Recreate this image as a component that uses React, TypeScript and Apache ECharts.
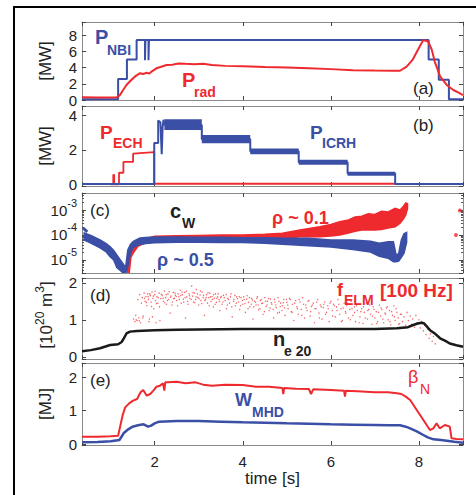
import React, { useEffect, useRef } from 'react';
import * as echarts from 'echarts';

// ---------- tick labels ----------
const timeTicks = [2, 4, 6, 8];
const ticksA = [0, 2, 4, 6, 8];
const ticksB = [0, 2, 4];
const ticksCExp = [-5, -4, -3];
const ticksD = [0, 1, 2];
const ticksE = [0, 1, 2];

// ---------- panel (a) [MW] ----------
const nbiT = [0.35, 1.17, 1.17, 1.37, 1.37, 1.59, 1.59, 1.78, 1.78, 1.79, 1.79, 1.86, 1.86, 1.87, 1.87, 8.22, 8.22, 8.45, 8.45, 8.68, 8.68, 9.0];
const nbiV = [0.1, 0.1, 2.6, 2.6, 5.0, 5.0, 7.4, 7.4, 4.9, 4.9, 7.4, 7.4, 4.9, 4.9, 7.4, 7.4, 5.0, 5.0, 2.5, 2.5, 0.1, 0.1];
const radT = [0.35, 0.7, 1.0, 1.14, 1.21, 1.28, 1.36, 1.44, 1.51, 1.58, 1.67, 1.74, 1.82, 1.88, 1.93, 2.04, 2.15, 2.27, 2.4, 2.54, 2.7, 2.9, 3.1, 3.3, 3.6, 4.0, 4.5, 5.0, 5.5, 6.0, 6.5, 7.0, 7.4, 7.57, 7.72, 7.85, 7.95, 8.03, 8.1, 8.15, 8.21, 8.29, 8.36, 8.48, 8.63, 8.78, 8.9, 9.0];
const radV = [0.33, 0.32, 0.3, 0.33, 0.6, 1.2, 1.85, 2.3, 2.67, 3.0, 3.3, 3.2, 3.35, 3.25, 3.5, 3.9, 4.1, 4.3, 4.35, 4.5, 4.45, 4.4, 4.45, 4.3, 4.2, 4.15, 4.05, 4.0, 3.9, 3.8, 3.65, 3.62, 3.6, 3.6, 4.1, 4.9, 5.9, 6.7, 7.4, 7.3, 7.2, 6.2, 4.7, 2.9, 1.85, 1.23, 0.9, 0.6];

// ---------- panel (b) [MW] ----------
const echT = [1.0, 1.06, 1.06, 1.08, 1.08, 1.19, 1.19, 1.29, 1.29, 1.51, 1.51, 1.75, 1.99, 1.99, 7.46];
const echV = [0, 0, 0.55, 0.55, 0, 0, 0.67, 0.67, 1.3, 1.3, 1.78, 1.83, 1.87, 0.03, 0.03];
const icrhT = [0.35, 1.99, 1.99, 2.08, 2.08, 2.13, 2.16, 2.18, 2.2, 2.22, 2.25, 3.07, 3.07, 4.17, 4.17, 5.27, 5.27, 6.38, 6.38, 7.46, 7.46, 9.0];
const icrhV = [0.02, 0.02, 2.4, 2.4, 3.7, 3.6, 1.75, 3.3, 3.75, 3.45, 3.5, 3.45, 2.62, 2.62, 1.92, 1.92, 1.28, 1.28, 0.62, 0.62, 0.02, 0.02];
const icrhBandStart = [2.22, 3.07, 4.17, 5.27, 6.38];
const icrhBandEnd = [3.07, 4.17, 5.27, 6.38, 7.46];
const icrhBandLo = [3.15, 2.38, 1.74, 1.13, 0.5];
const icrhBandHi = [3.78, 2.86, 2.08, 1.42, 0.73];

// ---------- panel (c) c_W, log10 values ----------
const rho01T = [1.38, 1.42, 1.46, 1.52, 1.62, 1.8, 2.0, 2.5, 3.0, 3.5, 4.0, 4.5, 4.9, 5.3, 5.75, 6.0, 6.2, 6.4, 6.55, 6.7, 6.85, 7.0, 7.15, 7.3, 7.46, 7.57, 7.65, 7.7, 7.74];
const rho01Hi = [-5.55, -4.75, -4.55, -4.45, -4.3, -4.15, -4.05, -4.03, -4.02, -4.0, -4.0, -3.97, -3.93, -3.8, -3.67, -3.58, -3.47, -3.4, -3.28, -3.25, -3.15, -3.18, -3.05, -3.08, -2.93, -3.0, -2.85, -2.72, -2.75];
const rho01Lo = [-5.55, -5.55, -4.9, -4.7, -4.45, -4.3, -4.25, -4.23, -4.22, -4.2, -4.2, -4.18, -4.15, -4.07, -4.07, -4.04, -4.0, -3.92, -3.85, -3.8, -3.8, -3.8, -3.78, -3.72, -3.67, -3.53, -3.35, -3.2, -2.95];
const rho05T = [0.4, 0.55, 0.76, 0.9, 0.99, 1.07, 1.14, 1.22, 1.3, 1.34, 1.39, 1.45, 1.51, 1.6, 1.67, 1.8, 2.0, 2.5, 3.0, 3.5, 4.0, 4.5, 5.0, 5.5, 6.0, 6.5, 6.9, 7.1, 7.3, 7.42, 7.48, 7.54, 7.6, 7.66, 7.72];
const rho05Hi = [-3.92, -4.02, -4.2, -4.35, -4.47, -4.62, -4.8, -5.0, -5.2, -5.3, -4.6, -4.38, -4.27, -4.18, -4.12, -4.1, -4.08, -4.08, -4.09, -4.09, -4.11, -4.11, -4.13, -4.13, -4.2, -4.2, -4.25, -4.33, -4.27, -4.27, -4.8, -4.75, -4.2, -3.95, -3.9];
const rho05Lo = [-4.2, -4.32, -4.52, -4.68, -4.87, -5.0, -5.3, -5.42, -5.55, -5.55, -5.27, -4.75, -4.5, -4.42, -4.38, -4.34, -4.31, -4.29, -4.29, -4.3, -4.3, -4.33, -4.38, -4.43, -4.48, -4.58, -4.68, -4.85, -4.93, -5.07, -5.07, -5.05, -4.9, -4.73, -4.3];
const rho05StubT = [0.37, 0.47];
const rho05StubV = [-3.72, -3.88];
const rho01DotT = [8.84, 8.93];
const rho01DotV = [-4.0, -3.02];

// ---------- panel (d) [10^20 m^3] ----------
const neT = [0.35, 0.55, 0.76, 0.99, 1.17, 1.25, 1.3, 1.36, 1.44, 1.6, 2.0, 2.5, 3.0, 4.0, 5.0, 6.0, 7.0, 7.5, 7.75, 7.87, 7.97, 8.06, 8.12, 8.25, 8.37, 8.48, 8.6, 8.7, 8.85, 9.0];
const neV = [0.15, 0.18, 0.23, 0.32, 0.34, 0.4, 0.5, 0.63, 0.68, 0.7, 0.72, 0.73, 0.74, 0.75, 0.75, 0.75, 0.75, 0.77, 0.8, 0.86, 0.9, 0.92, 0.9, 0.72, 0.62, 0.5, 0.43, 0.36, 0.31, 0.27];
const elmPoints: number[][] = [
  [1.52,1.02],[1.55,0.95],[1.57,1.12],[1.58,1.0],[1.6,0.98],[1.62,1.55],[1.64,1.05],[1.65,0.97],[1.66,1.68],[1.68,0.92],[1.7,1.45],[1.72,1.6],[1.73,1.05],[1.74,1.1],
  [1.76,1.72],[1.77,1.58],[1.78,1.5],[1.8,1.63],[1.81,1.47],[1.82,1.38],[1.84,1.7],[1.85,1.62],[1.86,1.55],[1.87,0.95],[1.88,1.02],[1.89,1.7],[1.9,1.66],[1.92,1.48],[1.93,1.36],[1.94,1.75],[1.95,1.08],[1.96,1.58],[1.97,1.64],[1.98,1.3],
  [2.0,1.68],[2.01,1.77],[2.02,1.52],[2.03,0.92],[2.04,1.44],[2.05,1.62],[2.07,1.45],[2.08,1.6],[2.1,1.72],[2.11,1.35],[2.12,0.98],[2.14,1.57],[2.15,1.69],[2.17,1.66],[2.19,1.58],[2.2,1.5],[2.22,1.78],[2.23,1.46],[2.25,1.6],[2.26,1.68],[2.27,1.42],[2.29,1.52],[2.3,1.7],[2.32,1.55],[2.33,1.76],[2.35,1.18],[2.36,1.61],[2.37,1.64],[2.39,1.4],[2.4,1.48],[2.42,1.74],[2.43,1.57],[2.45,1.58],[2.46,1.72],[2.47,1.66],[2.49,1.63],
  [2.5,1.52],[2.52,1.38],[2.53,1.7],[2.55,1.62],[2.56,1.55],[2.58,1.8],[2.59,1.66],[2.6,1.45],[2.62,1.75],[2.63,1.68],[2.65,1.56],[2.66,1.48],[2.68,1.74],[2.69,1.6],[2.7,1.05],[2.72,1.77],[2.73,1.62],[2.75,1.5],[2.76,1.42],[2.78,1.7],[2.79,1.65],[2.8,1.58],[2.83,1.55],[2.84,1.91],[2.86,1.64],[2.87,1.73],[2.88,1.48],[2.9,1.72],[2.91,1.46],[2.93,1.55],[2.94,1.62],[2.95,1.82],[2.97,1.7],[2.98,1.6],
  [3.0,1.4],[3.01,1.57],[3.03,1.67],[3.04,1.78],[3.05,1.52],[3.07,1.44],[3.08,1.75],[3.1,1.6],[3.11,1.66],[3.13,1.12],[3.14,1.52],[3.15,1.55],[3.17,1.6],[3.18,1.68],[3.2,1.45],[3.21,1.73],[3.23,1.6],[3.24,1.38],[3.25,1.72],[3.27,1.62],[3.28,1.5],[3.3,1.63],[3.31,1.55],[3.33,1.35],[3.34,1.68],[3.35,1.58],[3.37,1.42],[3.38,1.7],[3.4,1.47],[3.41,1.58],[3.43,1.62],[3.44,1.7],[3.46,1.55],[3.47,1.5],[3.48,1.25],
  [3.5,1.6],[3.51,1.63],[3.53,1.42],[3.55,1.48],[3.56,1.66],[3.58,1.6],[3.6,1.52],[3.62,1.68],[3.63,1.3],[3.65,1.4],[3.66,1.58],[3.68,1.55],[3.7,1.45],[3.72,1.62],[3.73,1.7],[3.75,1.35],[3.76,1.08],[3.79,1.5],[3.8,1.55],[3.82,1.66],[3.83,1.38],[3.85,1.45],[3.86,1.62],[3.88,1.57],[3.9,1.48],[3.92,1.62],[3.93,1.28],[3.95,1.38],[3.96,1.6],[3.99,1.52],
  [4.0,1.42],[4.02,1.62],[4.03,1.55],[4.05,1.44],[4.06,1.2],[4.09,1.56],[4.1,1.65],[4.12,1.3],[4.13,1.47],[4.15,1.6],[4.16,1.35],[4.19,1.42],[4.2,1.58],[4.22,1.54],[4.23,1.02],[4.25,1.35],[4.26,1.5],[4.29,1.48],[4.3,1.4],[4.32,1.58],[4.33,1.62],[4.35,1.4],[4.36,1.27],[4.39,1.3],[4.4,1.52],[4.42,1.55],[4.43,1.44],[4.45,1.45],[4.46,1.15],[4.49,1.22],
  [4.5,1.6],[4.52,1.5],[4.53,1.36],[4.55,1.4],[4.56,1.5],[4.59,1.58],[4.6,1.25],[4.62,1.32],[4.63,1.56],[4.65,1.46],[4.66,1.42],[4.69,1.28],[4.7,1.05],[4.72,1.55],[4.73,1.48],[4.75,1.4],[4.76,1.33],[4.79,1.18],[4.8,1.6],[4.82,1.5],[4.83,1.2],[4.85,1.36],[4.86,1.45],[4.89,1.25],[4.9,1.38],[4.92,1.46],[4.93,1.55],[4.95,1.32],[4.96,1.12],[4.99,1.55],
  [5.0,1.47],[5.02,1.4],[5.03,1.3],[5.06,1.58],[5.08,1.55],[5.1,1.22],[5.12,1.2],[5.13,1.42],[5.16,0.98],[5.18,1.45],[5.2,1.52],[5.23,1.35],[5.24,1.3],[5.26,1.15],[5.28,1.55],[5.3,1.48],[5.33,1.28],[5.34,1.12],[5.36,1.6],[5.38,1.42],[5.4,1.05],[5.43,1.4],[5.44,1.32],[5.46,1.25],[5.48,1.5],[5.5,1.52],[5.53,1.1],[5.54,1.22],[5.56,1.36],[5.58,1.4],
  [5.6,1.45],[5.63,0.92],[5.64,1.3],[5.66,1.3],[5.68,1.48],[5.7,1.55],[5.73,1.18],[5.74,1.05],[5.76,1.4],[5.78,1.35],[5.8,1.02],[5.83,1.33],[5.84,1.42],[5.86,1.48],[5.88,1.15],[5.9,1.2],[5.93,1.38],[5.94,1.3],[5.96,0.95],[5.98,1.45],
  [6.0,1.5],[6.03,1.25],[6.04,1.1],[6.06,1.42],[6.08,1.38],[6.1,1.08],[6.13,1.35],[6.14,1.25],[6.16,1.55],[6.18,1.42],[6.2,1.15],[6.23,1.3],[6.24,0.95],[6.26,0.98],[6.28,1.32],[6.3,1.45],[6.33,1.22],[6.34,1.18],[6.36,1.38],[6.38,1.45],[6.4,1.05],[6.43,1.28],[6.44,1.0],[6.46,1.5],[6.48,1.3],
  [6.5,1.12],[6.53,1.35],[6.54,1.2],[6.56,0.95],[6.58,1.38],[6.6,1.25],[6.63,1.42],[6.64,0.92],[6.66,1.08],[6.68,1.22],[6.7,1.3],[6.73,0.9],[6.74,1.35],[6.76,1.2],[6.78,1.05],[6.8,1.45],[6.83,1.02],[6.84,1.25],[6.86,1.28],[6.88,1.4],[6.9,1.15],[6.93,0.88],[6.94,1.1],[6.96,1.35],[6.98,1.28],
  [7.0,1.05],[7.03,1.22],[7.04,0.9],[7.06,0.95],[7.08,1.2],[7.1,1.4],[7.13,1.1],[7.14,1.32],[7.16,1.28],[7.18,1.02],[7.2,0.92],[7.23,1.18],[7.24,1.15],[7.26,1.32],[7.28,1.35],[7.3,1.0],[7.33,1.25],[7.34,0.95],[7.36,0.86],[7.38,1.22],[7.4,1.12],[7.43,1.38],[7.44,1.08],[7.46,0.98],[7.48,1.3],
  [7.5,1.2],[7.53,1.05],[7.54,0.88],[7.56,0.9],[7.58,1.15],[7.6,1.15],[7.63,0.95],[7.66,1.08],[7.7,0.85],[7.73,1.2],[7.76,0.98],[7.8,1.1],[7.83,0.88],[7.86,1.02],[7.9,0.8],[7.93,1.12],[7.96,0.92],[8.0,1.0],[8.03,0.78],[8.06,0.95],[8.1,0.7],
  [8.13,0.85],[8.16,0.6],[8.2,0.75],[8.23,0.5],[8.26,0.62],[8.3,0.42],[8.33,0.55],[8.37,0.35]
];

// ---------- panel (e) [MJ] ----------
const betaT = [0.35, 0.7, 1.0, 1.17, 1.22, 1.27, 1.33, 1.42, 1.51, 1.6, 1.68, 1.74, 1.82, 1.9, 1.97, 2.04, 2.12, 2.19, 2.22, 2.24, 2.3, 2.5, 2.7, 2.93, 3.1, 3.3, 3.6, 4.0, 4.3, 4.6, 4.9, 4.92, 4.94, 5.2, 5.5, 5.55, 5.6, 6.0, 6.3, 6.32, 6.34, 6.6, 7.0, 7.3, 7.5, 7.6, 7.7, 7.8, 7.95, 8.1, 8.25, 8.33, 8.4, 8.47, 8.59, 8.7, 8.74, 8.85, 8.97, 9.0];
const betaV = [0.22, 0.22, 0.23, 0.25, 0.55, 0.85, 1.1, 1.22, 1.3, 1.35, 1.55, 1.62, 1.45, 1.5, 1.6, 1.72, 1.75, 1.82, 1.6, 1.85, 1.85, 1.87, 1.82, 1.85, 1.78, 1.75, 1.78, 1.77, 1.72, 1.72, 1.68, 1.5, 1.68, 1.66, 1.65, 1.5, 1.64, 1.62, 1.6, 1.42, 1.6, 1.58, 1.55, 1.55, 1.52, 1.5, 1.42, 1.32, 1.02, 0.72, 0.42, 0.47, 0.62, 0.47, 0.57, 0.52, 0.17, 0.15, 0.14, 0.14];
const wT = [0.35, 0.7, 1.0, 1.2, 1.3, 1.4, 1.5, 1.62, 1.75, 1.85, 1.92, 2.0, 2.1, 2.5, 3.0, 3.5, 4.0, 4.5, 5.0, 5.5, 6.0, 6.5, 7.0, 7.3, 7.57, 7.7, 7.8, 7.95, 8.1, 8.2, 8.33, 8.5, 8.63, 8.8, 9.0];
const wV = [0.05, 0.06, 0.08, 0.12, 0.33, 0.44, 0.52, 0.56, 0.59, 0.52, 0.55, 0.62, 0.67, 0.69, 0.69, 0.67, 0.65, 0.64, 0.62, 0.61, 0.59, 0.58, 0.57, 0.56, 0.56, 0.52, 0.47, 0.38, 0.27, 0.2, 0.14, 0.12, 0.1, 0.07, 0.04];

// ---------- styling ----------
const BLUE = '#3a4fa5';
const RED = '#ee2a2e';
const TXT = '#222222';
const FRAME = '#8a8a8a';
const FONT = '"Liberation Sans", Arial, Helvetica, sans-serif';

const zip = (a: number[], b: number[]) => a.map((x, i) => [x, b[i]]);
const p10 = (v: number) => Math.pow(10, v);
const near = (list: number[], v: number) => list.some((t) => Math.abs(t - v) < 1e-6);

const GRIDS = [
  { left: 82, top: 22, width: 381, height: 78 },
  { left: 82, top: 106, width: 381, height: 80 },
  { left: 82, top: 193, width: 381, height: 80 },
  { left: 82, top: 278, width: 381, height: 81 },
  { left: 82, top: 363, width: 381, height: 82 },
];

const tickStyle = { show: true, inside: true, length: 4, lineStyle: { color: '#444', width: 1 } };
const lineStyleAxis = { show: true, onZero: false, lineStyle: { color: FRAME, width: 1 } };

function xAxes(i: number) {
  const base: any = {
    type: 'value', gridIndex: i, min: 0.35, max: 9.0, splitNumber: 4,
    splitLine: { show: false }, axisLine: lineStyleAxis, axisTick: tickStyle,
  };
  const last = i === 4;
  return [
    {
      ...base, position: 'bottom',
      axisLabel: {
        show: last, margin: 9, fontSize: 15, color: TXT, fontFamily: FONT,
        formatter: (v: number) => (near(timeTicks, v) ? String(Math.round(v)) : ''),
      },
      name: last ? 'time [s]' : '', nameLocation: 'middle', nameGap: 24,
      nameTextStyle: { fontSize: 17, color: TXT, fontFamily: FONT },
    },
    { ...base, position: 'top', axisLabel: { show: false } },
  ];
}

function yAxes(i: number, min: number, max: number, split: number, ticks: number[]) {
  const base: any = {
    type: 'value', gridIndex: i, min, max, splitNumber: split,
    splitLine: { show: false }, axisLine: lineStyleAxis, axisTick: tickStyle,
  };
  return [
    {
      ...base, position: 'left',
      axisLabel: {
        show: true, margin: 5, fontSize: 15, color: TXT, fontFamily: FONT,
        formatter: (v: number) => (near(ticks, v) ? String(Math.round(v)) : ''),
      },
    },
    { ...base, position: 'right', axisLabel: { show: false } },
  ];
}

function logAxes(i: number) {
  const base: any = {
    type: 'log', logBase: 10, gridIndex: i, min: 3.0e-6, max: 4.8e-3,
    splitLine: { show: false }, axisLine: lineStyleAxis, axisTick: tickStyle,
    minorTick: { show: true, splitNumber: 9, length: 2, lineStyle: { color: '#555' } },
  };
  return [
    {
      ...base, position: 'left',
      axisLabel: {
        show: true, margin: 5, color: TXT, fontFamily: FONT,
        formatter: (v: number) => {
          const e = Math.log10(v);
          const r = Math.round(e);
          return Math.abs(e - r) < 1e-6 && ticksCExp.includes(r) ? `{b|10}{s|${r}}` : '';
        },
        rich: {
          b: { fontSize: 15, lineHeight: 26, color: TXT, fontFamily: FONT },
          s: { fontSize: 11, verticalAlign: 'top', color: TXT, fontFamily: FONT },
        },
      },
    },
    { ...base, position: 'right', axisLabel: { show: false } },
  ];
}

function band(xi: number, yi: number, ts: number[], lo: number[], hi: number[], color: string) {
  return {
    type: 'custom', xAxisIndex: xi, yAxisIndex: yi, silent: true, clip: true,
    data: [[ts[0], p10(hi[0])]],
    renderItem: (_p: any, api: any) => {
      const pts: number[][] = [];
      for (let k = 0; k < ts.length; k++) pts.push(api.coord([ts[k], p10(hi[k])]));
      for (let k = ts.length - 1; k >= 0; k--) pts.push(api.coord([ts[k], p10(lo[k])]));
      return { type: 'polygon', shape: { points: pts }, style: { fill: color, stroke: color, lineWidth: 1.5 } };
    },
  };
}

function line(xi: number, yi: number, data: number[][], color: string, width: number) {
  return {
    type: 'line', xAxisIndex: xi, yAxisIndex: yi, data, symbol: 'none', silent: true,
    lineStyle: { color, width }, itemStyle: { color }, clip: true,
  };
}

function txt(text: string, x: number, y: number, size: number, color: string, weight = 'bold') {
  return {
    type: 'text', x, y, z: 50, silent: true,
    style: {
      text, fill: color, fontSize: size, fontWeight: weight, fontFamily: FONT,
      align: 'left', verticalAlign: 'middle', textAlign: 'left', textVerticalAlign: 'middle',
    },
  };
}

function vtxt(text: string, x: number, y: number, rich?: any) {
  return {
    type: 'text', x, y, rotation: Math.PI / 2, z: 50, silent: true,
    style: {
      text, fill: TXT, fontSize: 17, fontFamily: FONT, rich,
      align: 'center', verticalAlign: 'middle', textAlign: 'center', textVerticalAlign: 'middle',
    },
  };
}

export default function App() {
  const ref = useRef<HTMLDivElement>(null);
  useEffect(() => {
    if (!ref.current) return;
    const chart = echarts.init(ref.current, undefined, { renderer: 'svg' });
    const option: any = {
      animation: false,
      backgroundColor: '#ffffff',
      grid: GRIDS,
      xAxis: [0, 1, 2, 3, 4].flatMap((i) => xAxes(i)),
      yAxis: [
        ...yAxes(0, 0, 9.6, 5, ticksA),
        ...yAxes(1, -0.1, 4.55, 2, ticksB),
        ...logAxes(2),
        ...yAxes(3, -0.06, 2.13, 2, ticksD),
        ...yAxes(4, -0.03, 2.43, 2, ticksE),
      ],
      series: [
        // (a)
        line(0, 0, zip(nbiT, nbiV), BLUE, 2),
        line(0, 0, zip(radT, radV), RED, 2),
        // (b)
        line(2, 2, zip(echT, echV), RED, 1.8),
        {
          type: 'custom', xAxisIndex: 2, yAxisIndex: 2, silent: true, clip: true,
          data: icrhBandStart.map((s, k) => [s, icrhBandEnd[k], icrhBandLo[k], icrhBandHi[k]]),
          encode: { x: [0, 1], y: [2, 3] },
          renderItem: (_p: any, api: any) => {
            const a = api.coord([api.value(0), api.value(3)]);
            const b = api.coord([api.value(1), api.value(2)]);
            return { type: 'rect', shape: { x: a[0], y: a[1], width: b[0] - a[0], height: b[1] - a[1] }, style: { fill: BLUE } };
          },
        },
        line(2, 2, zip(icrhT, icrhV), BLUE, 2),
        // (c)
        band(4, 4, rho01T, rho01Lo, rho01Hi, RED),
        band(4, 4, rho05T, rho05Lo, rho05Hi, BLUE),
        line(4, 4, zip(rho05StubT, rho05StubV.map(p10)), BLUE, 3),
        {
          type: 'scatter', xAxisIndex: 4, yAxisIndex: 4, silent: true, symbolSize: 4,
          itemStyle: { color: RED }, data: zip(rho01DotT, rho01DotV.map(p10)),
        },
        // (d)
        {
          type: 'scatter', xAxisIndex: 6, yAxisIndex: 6, silent: true, symbolSize: 1.4,
          itemStyle: { color: '#f24a4a', opacity: 0.85 }, data: elmPoints,
        },
        line(6, 6, zip(neT, neV), '#1a1a1a', 2.5),
        // (e)
        line(8, 8, zip(betaT, betaV), RED, 2),
        line(8, 8, zip(wT, wV), BLUE, 2.5),
      ],
      graphic: [
        { type: 'rect', z: 60, silent: true, shape: { x: 14, y: 7, width: 520, height: 540 }, style: { fill: 'none', stroke: '#000', lineWidth: 2 } },
        // (a)
        txt('P', 95, 37, 20, BLUE), txt('NBI', 107, 50, 14, BLUE),
        txt('P', 182, 80, 20, RED), txt('rad', 194, 92, 14, RED),
        txt('(a)', 413, 88, 17, TXT, 'normal'),
        vtxt('[MW]', 45, 61),
        // (b)
        txt('P', 100, 132, 19, RED), txt('ECH', 113, 143, 14, RED),
        txt('P', 310, 132, 19, BLUE), txt('ICRH', 322, 143, 14, BLUE),
        txt('(b)', 413, 125, 17, TXT, 'normal'),
        vtxt('[MW]', 45, 146),
        // (c)
        txt('(c)', 90, 210, 17, TXT, 'normal'),
        txt('c', 170, 211, 20, TXT), txt('W', 182, 223, 14, TXT),
        txt('ρ ~ 0.1', 272, 218, 18, RED),
        txt('ρ ~ 0.5', 157, 260, 18, BLUE),
        // (d)
        txt('(d)', 90, 295, 17, TXT, 'normal'),
        txt('f', 337, 290, 18, RED), txt('ELM', 344, 300, 14, RED),
        txt('[100 Hz]', 380, 290, 19, RED),
        txt('n', 273, 339, 20, TXT), txt('e 20', 284, 351, 14, TXT),
        vtxt('{m|[10}{s|20}{m| m}{s|3}{m|]}', 46, 315, {
          m: { fontSize: 17, lineHeight: 24, fill: TXT, color: TXT, fontFamily: FONT },
          s: { fontSize: 12, verticalAlign: 'top', fill: TXT, color: TXT, fontFamily: FONT },
        }),
        // (e)
        txt('(e)', 90, 380, 17, TXT, 'normal'),
        txt('β', 408, 377, 18, RED, 'normal'), txt('N', 420, 389, 14, RED, 'normal'),
        txt('W', 235, 400, 18, BLUE), txt('MHD', 252, 412, 14, BLUE),
        vtxt('[MJ]', 45, 404),
      ],
    };
    chart.setOption(option);
    return () => chart.dispose();
  }, []);
  return <div ref={ref} style={{ position: 'absolute', left: 0, top: 0, width: 476, height: 495 }} />;
}
